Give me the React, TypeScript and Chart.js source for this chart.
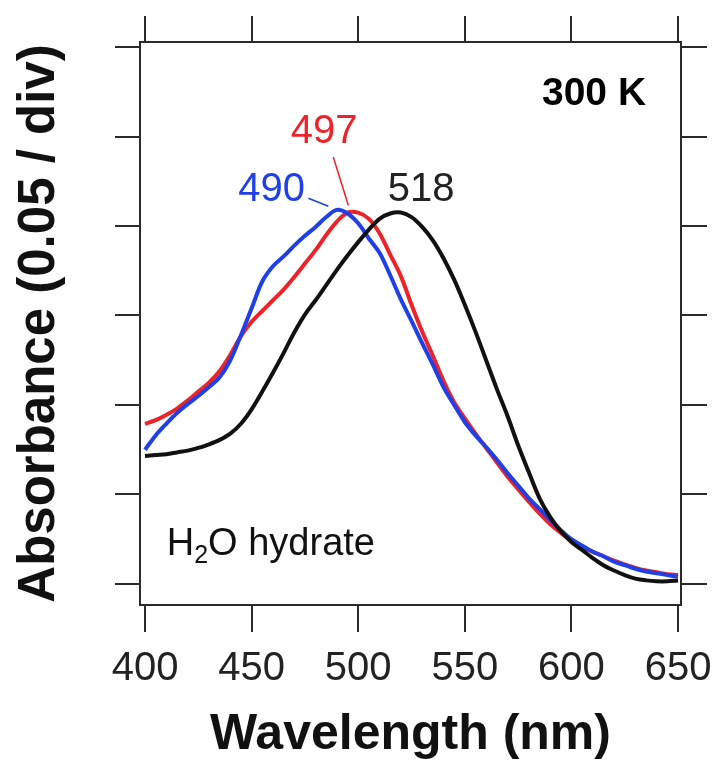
import React, { useEffect, useRef } from 'react';
import { Chart, registerables } from 'chart.js';

Chart.register(...registerables);

// wavelength grid (nm)
const wavelengths = [
  400, 405, 410, 415, 420, 425, 430, 435, 440, 445, 450, 455, 460, 465, 470, 475, 480,
  485, 490, 495, 500, 505, 510, 515, 520, 525, 530, 535, 540, 545, 550, 555, 560, 565,
  570, 575, 580, 585, 590, 595, 600, 605, 610, 615, 620, 625, 630, 635, 640, 645, 650,
];

// absorbance in divisions (0.05 / div)
const black518 = [
  1.43, 1.44, 1.45, 1.47, 1.49, 1.52, 1.56, 1.61, 1.68, 1.79, 1.95, 2.15, 2.36, 2.58, 2.81, 3.01, 3.17,
  3.34, 3.51, 3.67, 3.82, 3.96, 4.08, 4.14, 4.15, 4.10, 3.99, 3.84, 3.64, 3.40, 3.12, 2.82, 2.50, 2.18,
  1.88, 1.55, 1.25, 0.96, 0.75, 0.59, 0.47, 0.38, 0.29, 0.21, 0.15, 0.10, 0.06, 0.04, 0.03, 0.03, 0.04,
];
const red497 = [
  1.79, 1.83, 1.89, 1.96, 2.05, 2.15, 2.25, 2.38, 2.56, 2.77, 2.93, 3.05, 3.17, 3.29, 3.43, 3.58, 3.73,
  3.90, 4.05, 4.15, 4.15, 4.08, 3.92, 3.68, 3.44, 3.12, 2.82, 2.55, 2.27, 2.03, 1.85, 1.68, 1.52, 1.36,
  1.20, 1.06, 0.92, 0.79, 0.67, 0.57, 0.49, 0.42, 0.36, 0.31, 0.26, 0.22, 0.18, 0.15, 0.13, 0.11, 0.10,
];
const blue490 = [
  1.50, 1.66, 1.79, 1.91, 2.01, 2.10, 2.20, 2.31, 2.50, 2.78, 3.08, 3.38, 3.55, 3.66, 3.78, 3.89, 3.99,
  4.10, 4.18, 4.14, 4.03, 3.86, 3.70, 3.45, 3.18, 2.94, 2.69, 2.45, 2.20, 2.00, 1.81, 1.66, 1.53, 1.39,
  1.24, 1.10, 0.96, 0.84, 0.72, 0.60, 0.50, 0.43, 0.36, 0.31, 0.25, 0.21, 0.17, 0.14, 0.12, 0.10, 0.08,
];

const xTicks = [400, 450, 500, 550, 600, 650];
const yTicks = [0, 1, 2, 3, 4, 5, 6];

const FONT = "'Liberation Sans', Arial, Helvetica, sans-serif";
const AXIS = '#2a2a2a';
const RED = '#ec2328';
const BLUE = '#1f3fe8';
const BLACK = '#111111';

const toPoints = (ys: number[]) => wavelengths.map((x, i) => ({ x, y: ys[i] }));

// text labels drawn on top of the plot, placed in data coordinates
const annotationPlugin = {
  id: 'peakLabels',
  afterDatasetsDraw(chart: Chart) {
    const { ctx } = chart;
    const sx = chart.scales.x;
    const sy = chart.scales.y;
    const px = (v: number) => sx.getPixelForValue(v);
    const py = (v: number) => sy.getPixelForValue(v);

    ctx.save();
    // leader lines
    ctx.lineWidth = 1.5;
    ctx.strokeStyle = RED;
    ctx.beginPath();
    ctx.moveTo(px(488.3), py(4.77));
    ctx.lineTo(px(495.4), py(4.23));
    ctx.stroke();
    ctx.strokeStyle = BLUE;
    ctx.beginPath();
    ctx.moveTo(px(476.6), py(4.31));
    ctx.lineTo(px(486.0), py(4.22));
    ctx.stroke();

    ctx.textAlign = 'center';
    ctx.textBaseline = 'middle';
    ctx.font = `40px ${FONT}`;
    ctx.fillStyle = RED;
    ctx.fillText('497', px(484.0), py(5.05));
    ctx.fillStyle = BLUE;
    ctx.fillText('490', px(459.4), py(4.4));
    ctx.fillStyle = '#222';
    ctx.fillText('518', px(529.5), py(4.4));

    ctx.font = `bold 39px ${FONT}`;
    ctx.fillStyle = '#000';
    ctx.fillText('300 K', px(610.6), py(5.47));

    // H2O hydrate with subscript
    ctx.textAlign = 'left';
    ctx.textBaseline = 'alphabetic';
    ctx.fillStyle = '#111';
    let x = px(410.2);
    const base = py(0.324);
    ctx.font = `38px ${FONT}`;
    ctx.fillText('H', x, base);
    x += ctx.measureText('H').width;
    ctx.font = `25px ${FONT}`;
    ctx.fillText('2', x, base + 8);
    x += ctx.measureText('2').width;
    ctx.font = `38px ${FONT}`;
    ctx.fillText('O hydrate', x, base);
    ctx.restore();
  },
};

const App: React.FC = () => {
  const canvasRef = useRef<HTMLCanvasElement>(null);
  const chartRef = useRef<Chart | null>(null);

  useEffect(() => {
    document.body.style.margin = '0';
    if (!canvasRef.current) return;
    if (chartRef.current) chartRef.current.destroy();

    const tickGrid = (len: number) => ({
      drawOnChartArea: false,
      drawTicks: true,
      tickLength: len,
      color: AXIS,
      lineWidth: 2,
    });
    const border = { display: true, color: AXIS, width: 2 };
    const xRange = { min: 397.65, max: 651.4 };
    const yRange = { min: -0.235, max: 6.056 };
    const setXTicks = (axis: any) => { axis.ticks = xTicks.map(v => ({ value: v })); };
    const setYTicks = (axis: any) => { axis.ticks = yTicks.map(v => ({ value: v })); };
    // fixed box sizes so the plot area lands where the figure has it
    const fixHeight = (h: number) => (s: any) => {
      s.height = h;
      s.paddingLeft = 0;
      s.paddingRight = 0;
    };
    const fixWidth = (w: number) => (s: any) => {
      s.width = w;
      s.paddingTop = 0;
      s.paddingBottom = 0;
    };

    chartRef.current = new Chart(canvasRef.current, {
      type: 'line',
      data: {
        datasets: [
          { label: '518', data: toPoints(black518), borderColor: BLACK, order: 1 },
          { label: '490', data: toPoints(blue490), borderColor: BLUE, order: 2 },
          { label: '497', data: toPoints(red497), borderColor: RED, order: 3 },
        ],
      },
      options: {
        responsive: true,
        maintainAspectRatio: false,
        animation: false,
        elements: {
          point: { radius: 0 },
          line: { borderWidth: 4, tension: 0.35, fill: false },
        },
        layout: { padding: 0 },
        plugins: { legend: { display: false }, tooltip: { enabled: false } },
        scales: {
          x: {
            type: 'linear',
            position: 'bottom',
            ...xRange,
            afterBuildTicks: setXTicks,
            afterFit: fixHeight(160),
            grid: tickGrid(27),
            border,
            ticks: { color: '#222', padding: 13, font: { family: FONT, size: 40 }, maxRotation: 0 },
            title: {
              display: true,
              text: 'Wavelength (nm)',
              color: '#111',
              padding: 0,
              font: { family: FONT, size: 50, weight: 'bold', lineHeight: 1.2 },
            },
          },
          x2: {
            type: 'linear',
            position: 'top',
            ...xRange,
            afterBuildTicks: setXTicks,
            afterFit: fixHeight(42),
            grid: tickGrid(26),
            border,
            ticks: { display: false },
          },
          y: {
            type: 'linear',
            position: 'left',
            ...yRange,
            afterBuildTicks: setYTicks,
            afterFit: fixWidth(140),
            grid: tickGrid(25),
            border,
            ticks: { display: false },
            title: {
              display: true,
              text: 'Absorbance (0.05 / div)',
              color: '#111',
              padding: { top: 9, bottom: 0 },
              font: { family: FONT, size: 51, weight: 'bold', lineHeight: 1.2 },
            },
          },
          y2: {
            type: 'linear',
            position: 'right',
            ...yRange,
            afterBuildTicks: setYTicks,
            afterFit: fixWidth(38),
            grid: tickGrid(26),
            border,
            ticks: { display: false },
          },
        },
      },
      plugins: [annotationPlugin],
    });

    return () => {
      if (chartRef.current) {
        chartRef.current.destroy();
        chartRef.current = null;
      }
    };
  }, []);

  return (
    <div style={{ width: 719, height: 765, position: 'relative', background: '#fff' }}>
      <canvas ref={canvasRef} />
    </div>
  );
};

export default App;
